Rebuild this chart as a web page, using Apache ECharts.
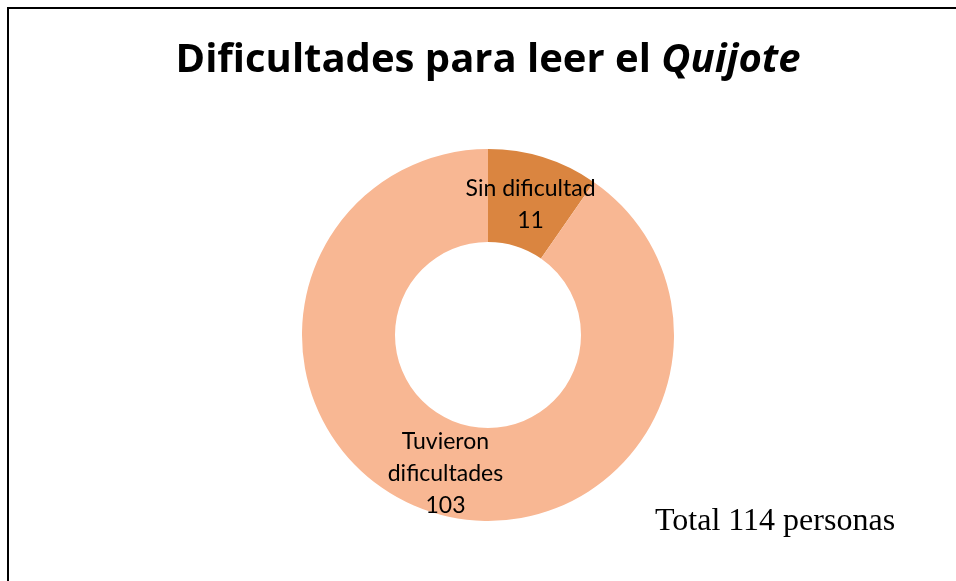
<!DOCTYPE html>
<html>
<head>
<meta charset="utf-8">
<script src="https://cdn.jsdelivr.net/npm/echarts@6/dist/echarts.min.js"></script>
<style>
    html, body { margin: 0; padding: 0; background: #fff; }
    #main { width: 956px; height: 581px; }
</style>
</head>
<body>
<div id="main"></div>
<script>
var categories = ['Sin dificultad', 'Tuvieron\ndificultades'];
var values = [11, 103];
var colors = ['#DA8540', '#F8B793'];
var totalText = 'Total 114 personas';

var chartPage = (function () {
    var Return = {
        init: function () {
            initChart();
        }
    }
    var initChart = function () {
        var myChart = echarts.init(document.getElementById('main'));
        var data = [];
        for (var i = 0; i < categories.length; i++) {
            data.push({ name: categories[i], value: values[i], itemStyle: { color: colors[i] } });
        }
        // first label sits a little lower in the original
        data[0].label = { offset: [0, 6] };
        data[1].label = { offset: [0, 3] };
        var option = {
            animation: false,
            title: {
                text: 'Dificultades para leer el {i|Quijote}',
                left: 483,
                textAlign: 'center',
                top: 36,
                textStyle: {
                    fontFamily: 'Open Sans',
                    fontSize: 40,
                    fontWeight: 'bold',
                    color: '#000',
                    rich: {
                        i: {
                            fontFamily: 'Open Sans',
                            fontSize: 40,
                            fontWeight: 'bold',
                            fontStyle: 'italic',
                            color: '#000'
                        }
                    }
                }
            },
            graphic: [{
                type: 'rect',
                shape: { x: 8, y: 8, width: 1200, height: 1200 },
                style: { fill: 'none', stroke: '#000', lineWidth: 2 }
            }, {
                type: 'text',
                left: 655,
                top: 506,
                style: {
                    text: totalText,
                    fontFamily: 'Liberation Serif',
                    fontSize: 32,
                    fill: '#000'
                }
            }],
            series: [{
                type: 'pie',
                center: [488, 335],
                radius: [93, 186],
                startAngle: 90,
                clockwise: true,
                silent: true,
                label: {
                    show: true,
                    position: 'inside',
                    formatter: '{b}\n{c}',
                    fontFamily: 'Lato',
                    fontSize: 23,
                    lineHeight: 32,
                    color: '#000'
                },
                labelLine: { show: false },
                data: data
            }]
        };
        myChart.setOption(option);
    }
    return Return;
})();

; (function () {
    chartPage.init();
})();
</script>
</body>
</html>
